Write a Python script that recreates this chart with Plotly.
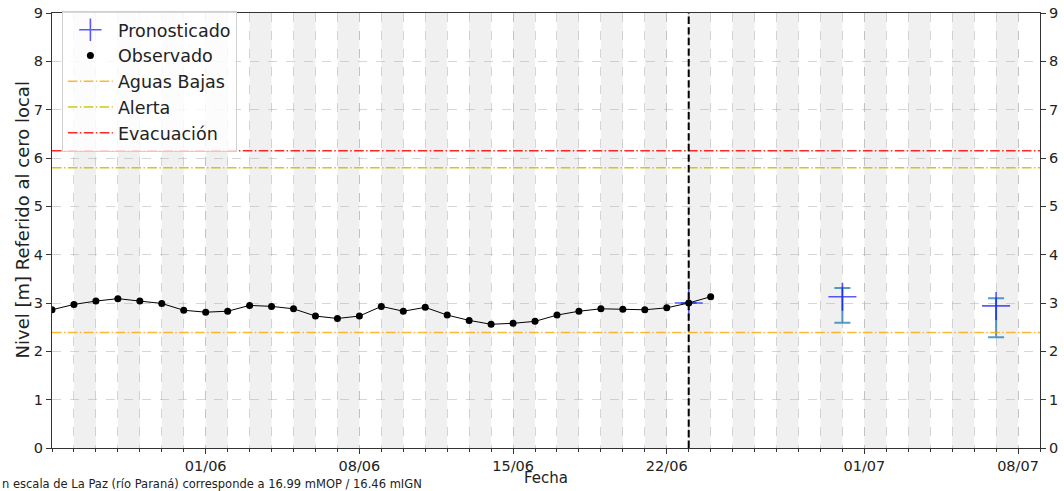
import plotly.graph_objects as go
import pandas as pd

# ---------------- data ----------------
obs_dates = pd.date_range("2025-05-25", "2025-06-24", freq="D")
obs_values = [2.86, 2.97, 3.04, 3.09, 3.04, 2.99, 2.85, 2.81, 2.83, 2.95,
              2.93, 2.88, 2.73, 2.68, 2.73, 2.93, 2.83, 2.91, 2.75, 2.64,
              2.56, 2.58, 2.62, 2.75, 2.83, 2.88, 2.87, 2.86, 2.90, 3.00, 3.13]

fc_dates = ["2025-06-23", "2025-06-30", "2025-07-07"]
fc_values = [3.00, 3.13, 2.94]
fc_upper = [3.00, 3.31, 3.10]
fc_lower = [3.00, 2.59, 2.29]

thr_names = ["Aguas Bajas", "Alerta", "Evacuación"]
thr_values = [2.39, 5.80, 6.15]
thr_colors = ["rgba(255,165,0,0.8)", "rgba(196,196,0,0.9)", "rgba(255,0,0,0.85)"]

tick_dates = ["2025-06-01", "2025-06-08", "2025-06-15", "2025-06-22", "2025-07-01", "2025-07-08"]
tick_labels = ["01/06", "08/06", "15/06", "22/06", "01/07", "08/07"]

x_start, x_end = "2025-05-25", "2025-07-09"
forecast_date = "2025-06-23"
footer = "n escala de La Paz (río Paraná) corresponde a 16.99 mMOP / 16.46 mIGN"

# ---------------- figure ----------------
fig = go.Figure()
FONT = "DejaVu Sans"
DASHDOT = "9.6px,2.4px,1.5px,2.4px"

# forecast
fig.add_trace(go.Scatter(
    x=fc_dates, y=fc_values, mode="markers", name="Pronosticado",
    legendgroup="a",
    marker=dict(symbol="cross-thin", size=20, line=dict(color="rgba(0,0,255,0.65)", width=1.6)),
    error_y=dict(type="data", symmetric=False,
                 array=[u - v for u, v in zip(fc_upper, fc_values)],
                 arrayminus=[v - l for v, l in zip(fc_values, fc_lower)],
                 color="rgba(31,119,180,0.75)", thickness=2, width=8),
))

# observed line (no legend) + markers (legend)
fig.add_trace(go.Scatter(
    x=obs_dates, y=obs_values, mode="lines", showlegend=False,
    line=dict(color="black", width=1), hoverinfo="skip",
))
fig.add_trace(go.Scatter(
    x=obs_dates, y=obs_values, mode="markers", name="Observado",
    legendgroup="b",
    marker=dict(color="black", size=7),
))

for i, (n, v, c) in enumerate(zip(thr_names, thr_values, thr_colors)):
    fig.add_trace(go.Scatter(
        x=[x_start, x_end], y=[v, v], mode="lines", name=n,
        legendgroup="c%d" % i,
        line=dict(color=c, width=1.5, dash=DASHDOT),
    ))

# dummy for right axis
fig.add_trace(go.Scatter(x=[x_start], y=[0], yaxis="y2", mode="markers",
                         marker=dict(opacity=0), showlegend=False, hoverinfo="skip"))

# alternating day bands
days = pd.date_range(x_start, x_end, freq="D")
shapes = []
for k in range(1, len(days) - 1, 2):
    shapes.append(dict(type="rect", xref="x", yref="paper", layer="below",
                       x0=days[k], x1=days[k + 1], y0=0, y1=1,
                       fillcolor="#f0f0f0", line=dict(width=0)))
shapes.append(dict(type="line", xref="x", yref="paper", layer="above",
                   x0=forecast_date, x1=forecast_date, y0=0, y1=1,
                   line=dict(color="black", width=2, dash="7.4px,3.2px")))

grid = "rgba(180,180,180,0.55)"
fig.update_layout(
    width=1064, height=491,
    margin=dict(l=52, r=22, t=5.5, b=42.7),
    paper_bgcolor="white", plot_bgcolor="white",
    font=dict(family=FONT, color="#222"),
    shapes=shapes,
    showlegend=True,
    legend=dict(x=0.01, y=1.005, xanchor="left", yanchor="top",
                bgcolor="rgba(255,255,255,0.8)", bordercolor="#d0d0d0", borderwidth=1,
                font=dict(size=17.5, family=FONT), tracegroupgap=0, itemwidth=45,
                traceorder="grouped"),
    xaxis=dict(type="date", range=[x_start, x_end],
               tickmode="array", tickvals=tick_dates, ticktext=tick_labels,
               tickfont=dict(size=14.5), ticks="outside", ticklen=5, tickcolor="#333",
               ticklabeloverflow="allow",
               showgrid=True, gridcolor=grid, griddash="dash", gridwidth=1,
               minor=dict(dtick=86400000, tick0=x_start, ticks="outside", ticklen=3,
                          tickcolor="#333", showgrid=True, gridcolor=grid, griddash="dash"),
               showline=True, linecolor="#333", linewidth=1, mirror=True, zeroline=False),
    yaxis=dict(range=[0, 9], dtick=1, tickfont=dict(size=14.5), ticks="outside", ticklen=5,
               tickcolor="#333", ticklabeloverflow="allow",
               showgrid=True, gridcolor=grid, griddash="dash",
               showline=True, linecolor="#333", linewidth=1, mirror=True, zeroline=False),
    yaxis2=dict(range=[0, 9], dtick=1, overlaying="y", side="right",
                tickfont=dict(size=14.5), ticks="outside", ticklen=5, tickcolor="#333",
                ticklabeloverflow="allow",
                showgrid=False, zeroline=False, showline=False),
    annotations=[
        dict(text="Fecha", xref="paper", yref="paper", x=0.5, y=-0.069,
             xanchor="center", yanchor="middle", showarrow=False, font=dict(size=15)),
        dict(text="Nivel [m] Referido al cero local", xref="paper", yref="paper",
             x=-0.0295, y=0.525, xanchor="center", yanchor="middle", textangle=-90,
             showarrow=False, font=dict(size=18)),
        dict(text=footer, xref="paper", yref="paper", x=0, xshift=-52, y=-0.083,
             xanchor="left", yanchor="middle", showarrow=False, font=dict(size=11.5)),
    ],
)

fig.write_html("out.html", config={"displayModeBar": False},
               post_script="document.body.style.margin='0px';")
